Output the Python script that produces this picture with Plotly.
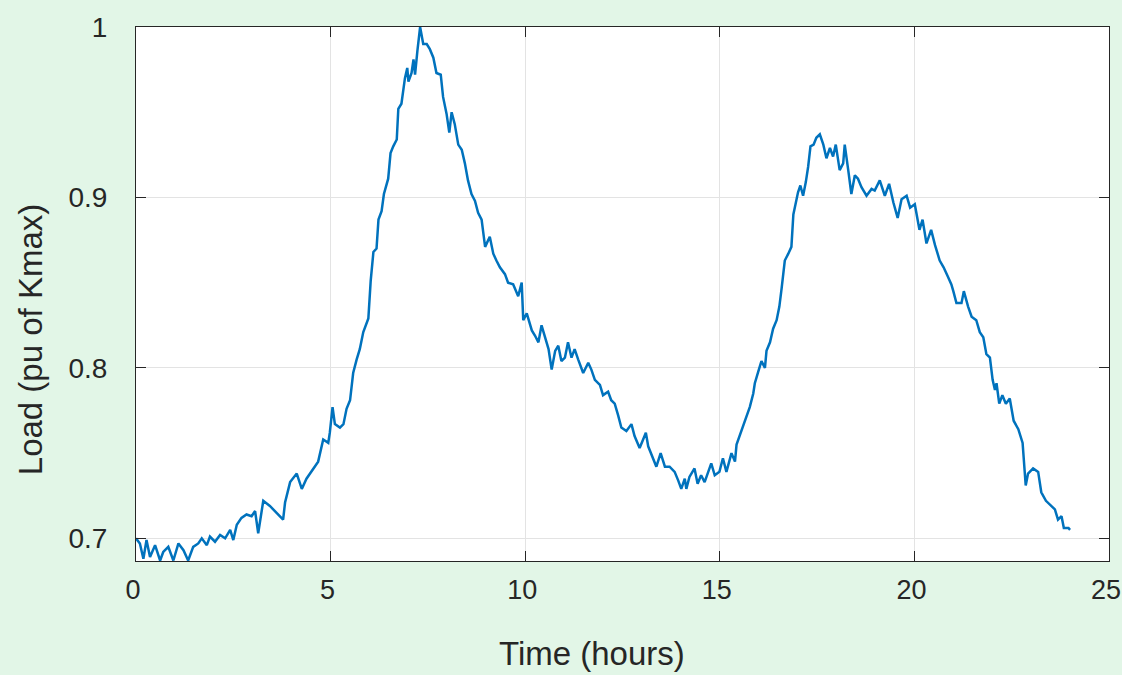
import plotly.graph_objects as go

# Daily load profile, per unit of Kmax
hours = [
    0.00, 0.10, 0.19, 0.27, 0.36, 0.49, 0.62, 0.70, 0.83, 0.96,
    1.09, 1.22, 1.34, 1.47, 1.60, 1.69, 1.82, 1.90, 2.03, 2.16,
    2.29, 2.42, 2.50, 2.59, 2.71, 2.84, 2.97, 3.06, 3.14, 3.27,
    3.44, 3.61, 3.78, 3.83, 3.96, 4.13, 4.26, 4.38, 4.55, 4.68,
    4.81, 4.94, 4.98, 5.05, 5.11, 5.24, 5.33, 5.41, 5.50, 5.58,
    5.67, 5.75, 5.84, 5.97, 6.03, 6.10, 6.18, 6.23, 6.31, 6.37,
    6.48, 6.54, 6.61, 6.70, 6.74, 6.82, 6.91, 6.97, 7.00, 7.08,
    7.13, 7.17, 7.23, 7.30, 7.38, 7.47, 7.55, 7.64, 7.72, 7.83,
    7.89, 7.98, 8.05, 8.11, 8.19, 8.28, 8.37, 8.45, 8.53, 8.62,
    8.71, 8.79, 8.88, 8.97, 9.09, 9.18, 9.26, 9.35, 9.48, 9.56,
    9.69, 9.82, 9.91, 9.95, 10.04, 10.17, 10.25, 10.34, 10.42, 10.51,
    10.60, 10.68, 10.77, 10.85, 10.93, 11.02, 11.10, 11.19, 11.27, 11.36,
    11.49, 11.62, 11.70, 11.79, 11.92, 12.00, 12.13, 12.21, 12.30, 12.39,
    12.47, 12.60, 12.73, 12.81, 12.94, 13.03, 13.10, 13.16, 13.24, 13.37,
    13.48, 13.59, 13.71, 13.84, 13.93, 14.01, 14.10, 14.14, 14.22, 14.35,
    14.43, 14.52, 14.61, 14.69, 14.78, 14.87, 14.99, 15.08, 15.17, 15.30,
    15.39, 15.43, 15.51, 15.60, 15.69, 15.77, 15.86, 15.90, 15.99, 16.07,
    16.16, 16.20, 16.29, 16.37, 16.46, 16.53, 16.59, 16.67, 16.76, 16.84,
    16.89, 16.93, 17.01, 17.07, 17.14, 17.21, 17.27, 17.33, 17.41, 17.48,
    17.57, 17.66, 17.74, 17.83, 17.91, 17.98, 18.08, 18.17, 18.21, 18.30,
    18.38, 18.47, 18.55, 18.64, 18.77, 18.90, 18.98, 19.11, 19.24, 19.35,
    19.46, 19.57, 19.67, 19.80, 19.89, 20.01, 20.13, 20.21, 20.31, 20.43,
    20.53, 20.65, 20.75, 20.85, 20.95, 21.00, 21.08, 21.21, 21.27, 21.38,
    21.47, 21.59, 21.68, 21.77, 21.85, 21.94, 22.01, 22.07, 22.11, 22.18,
    22.26, 22.35, 22.45, 22.55, 22.67, 22.78, 22.86, 22.92, 23.05, 23.18,
    23.26, 23.38, 23.48, 23.61, 23.69, 23.78, 23.84, 23.96, 24.00,
]

load_pu = [
    0.700, 0.697, 0.688, 0.699, 0.689, 0.696, 0.687, 0.692, 0.695, 0.687,
    0.697, 0.693, 0.687, 0.695, 0.697, 0.700, 0.696, 0.701, 0.698, 0.702,
    0.700, 0.705, 0.699, 0.708, 0.712, 0.714, 0.713, 0.716, 0.703, 0.722,
    0.719, 0.715, 0.711, 0.721, 0.733, 0.738, 0.729, 0.735, 0.741, 0.745,
    0.758, 0.756, 0.762, 0.777, 0.767, 0.765, 0.767, 0.776, 0.781, 0.797,
    0.805, 0.811, 0.821, 0.829, 0.851, 0.868, 0.870, 0.887, 0.892, 0.902,
    0.911, 0.926, 0.930, 0.934, 0.952, 0.955, 0.970, 0.976, 0.968, 0.973,
    0.981, 0.972, 0.986, 1.000, 0.990, 0.990, 0.987, 0.982, 0.973, 0.972,
    0.959, 0.949, 0.938, 0.950, 0.943, 0.931, 0.928, 0.920, 0.910, 0.902,
    0.898, 0.891, 0.887, 0.871, 0.877, 0.867, 0.863, 0.859, 0.855, 0.850,
    0.849, 0.842, 0.850, 0.828, 0.832, 0.822, 0.819, 0.815, 0.825, 0.818,
    0.811, 0.799, 0.810, 0.813, 0.804, 0.806, 0.815, 0.806, 0.811, 0.805,
    0.797, 0.803, 0.799, 0.793, 0.790, 0.784, 0.786, 0.781, 0.779, 0.772,
    0.765, 0.763, 0.767, 0.760, 0.753, 0.758, 0.762, 0.754, 0.749, 0.742,
    0.750, 0.742, 0.742, 0.739, 0.734, 0.729, 0.735, 0.729, 0.736, 0.741,
    0.732, 0.737, 0.733, 0.738, 0.744, 0.737, 0.739, 0.747, 0.739, 0.750,
    0.745, 0.755, 0.760, 0.766, 0.771, 0.777, 0.785, 0.791, 0.798, 0.804,
    0.800, 0.810, 0.815, 0.823, 0.828, 0.836, 0.847, 0.863, 0.867, 0.871,
    0.890, 0.895, 0.903, 0.907, 0.901, 0.909, 0.918, 0.930, 0.931, 0.935,
    0.937, 0.931, 0.923, 0.929, 0.924, 0.931, 0.916, 0.920, 0.931, 0.916,
    0.902, 0.913, 0.911, 0.906, 0.901, 0.905, 0.904, 0.910, 0.901, 0.908,
    0.897, 0.888, 0.899, 0.901, 0.894, 0.896, 0.881, 0.887, 0.873, 0.881,
    0.872, 0.863, 0.859, 0.854, 0.849, 0.845, 0.838, 0.838, 0.845, 0.836,
    0.830, 0.828, 0.821, 0.818, 0.808, 0.806, 0.793, 0.787, 0.791, 0.779,
    0.784, 0.779, 0.782, 0.769, 0.764, 0.756, 0.731, 0.738, 0.741, 0.739,
    0.727, 0.722, 0.720, 0.717, 0.711, 0.713, 0.706, 0.706, 0.705,
]

x_ticks = [0, 5, 10, 15, 20, 25]
y_ticks = [0.7, 0.8, 0.9, 1.0]
y_tick_labels = ["0.7", "0.8", "0.9", "1"]

FONT = "Liberation Sans, Arial, sans-serif"
AXIS_COLOR = "#262626"
GRID_COLOR = "#e3e3e3"
LINE_COLOR = "#0072BD"

fig = go.Figure()
fig.add_trace(go.Scatter(
    x=hours, y=load_pu, mode="lines",
    line=dict(color=LINE_COLOR, width=2.5),
    showlegend=False, hoverinfo="x+y",
))

# soft pale-green backdrop with lighter streaks
backdrop = [
    (0.00, 0.93, 0.12, 1.00), (0.30, 0.96, 0.55, 1.00), (0.80, 0.965, 1.00, 1.00),
    (0.00, 0.90, 0.10, 0.915), (0.00, 0.72, 0.08, 0.735), (0.00, 0.38, 0.09, 0.40),
    (0.00, 0.27, 0.06, 0.29), (0.00, 0.04, 0.10, 0.09),
    (0.22, 0.00, 0.33, 0.10), (0.40, 0.02, 0.56, 0.12), (0.86, 0.00, 0.98, 0.07),
    (0.60, 0.10, 0.72, 0.14), (0.25, 0.06, 0.40, 0.08),
]
shapes = []
for x0, y0, x1, y1 in backdrop:
    shapes.append(dict(type="rect", xref="paper", yref="paper",
                       x0=x0, y0=y0, x1=x1, y1=y1, layer="below",
                       line=dict(width=0), fillcolor="rgba(255,255,255,0.55)"))

fig.update_layout(
    width=1122, height=675,
    margin=dict(l=136, r=13, t=27, b=114, autoexpand=False),
    paper_bgcolor="#e2f6e7",
    plot_bgcolor="#ffffff",
    font=dict(family=FONT, size=28, color=AXIS_COLOR),
    shapes=shapes,
    xaxis=dict(
        range=[0, 25], tickvals=x_ticks, ticks="inside", ticklen=10,
        tickcolor=AXIS_COLOR, showline=True, linecolor=AXIS_COLOR, linewidth=1,
        mirror="ticks", showgrid=True, gridcolor=GRID_COLOR, gridwidth=1,
        zeroline=False, ticklabelstandoff=5, ticklabelshift=-3,
        ticklabeloverflow="allow", automargin=False,
        tickfont=dict(family=FONT, size=27, color=AXIS_COLOR),
    ),
    yaxis=dict(
        range=[0.6867, 1.0], tickvals=y_ticks, ticktext=y_tick_labels,
        ticks="inside", ticklen=10,
        tickcolor=AXIS_COLOR, showline=True, linecolor=AXIS_COLOR, linewidth=1,
        mirror="ticks", showgrid=True, gridcolor=GRID_COLOR, gridwidth=1,
        zeroline=False, ticklabelstandoff=22, ticklabeloverflow="allow",
        automargin=False,
        tickfont=dict(family=FONT, size=28, color=AXIS_COLOR),
    ),
    annotations=[
        dict(text="Time (hours)", xref="paper", yref="paper",
             x=(592 - 136) / 973, y=-(654 - 561) / 534.5,
             xanchor="center", yanchor="middle", showarrow=False,
             font=dict(family=FONT, size=33, color=AXIS_COLOR)),
        dict(text="Load (pu of Kmax)", xref="paper", yref="paper",
             x=-(136 - 30) / 973, y=(561 - 340) / 534.5,
             xanchor="center", yanchor="middle", textangle=-90, showarrow=False,
             font=dict(family=FONT, size=33, color=AXIS_COLOR)),
    ],
)

fig.write_html("out.html")
